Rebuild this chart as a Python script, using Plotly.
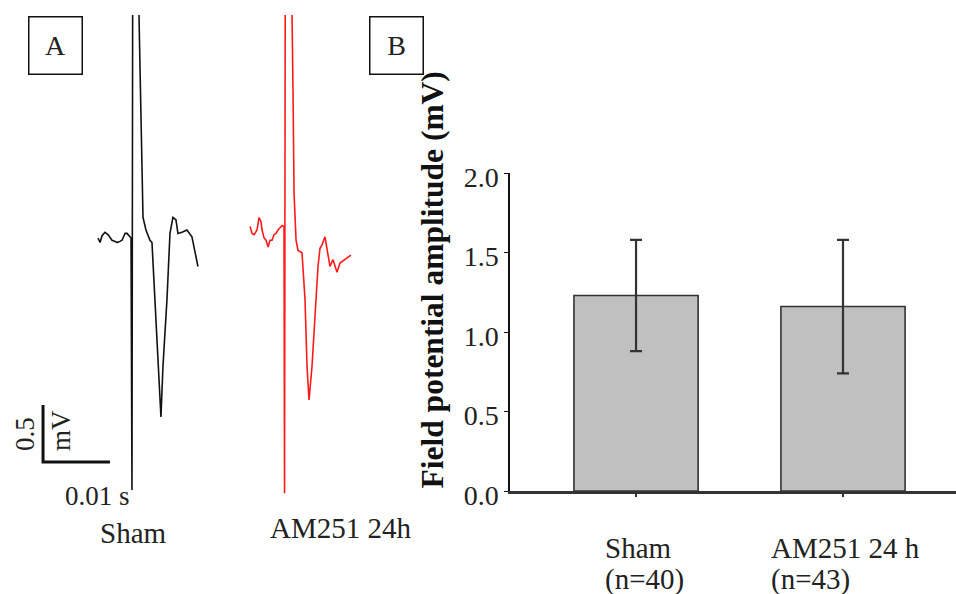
import plotly.graph_objects as go

# ---- Panel A: example field potential traces (time in ms, amplitude in mV) ----
sham_t = [0, 0.30, 0.60, 1.04, 1.49, 1.79, 2.09, 2.54, 2.84, 3.28, 3.58, 3.88, 4.03,
          4.33, 4.48, 4.78, 4.93, 5.07, 5.22, 6.04, 6.12, 6.27, 6.57, 6.72, 7.16,
          7.76, 8.06, 8.51, 8.96, 9.40, 9.70, 10.30, 10.75, 11.19, 11.64, 11.94,
          12.54, 13.28, 14.03, 14.48, 14.93]
sham_mv = [0, -0.04, 0.02, 0.05, 0.03, 0.00, -0.02, -0.03, -0.04, -0.03, -0.02, 0.02,
           0.04, 0.04, 0.03, 0.01, 0.00, -2.21, 4.0, 4.0, 1.96, 1.50, 0.62, 0.18, 0.07,
           -0.02, -0.04, -0.54, -1.13, -1.57, -1.13, -0.54, 0.04, 0.18, 0.16, 0.04,
           0.05, 0.07, 0.01, -0.13, -0.25]

am251_t = [0, 0.30, 0.60, 1.04, 1.34, 1.64, 1.79, 2.09, 2.39, 2.69, 2.99, 3.28, 3.58,
           3.88, 4.18, 4.48, 4.78, 5.07, 5.15, 5.30, 6.19, 6.27, 6.42, 6.57, 6.87,
           7.16, 7.76, 8.21, 8.51, 8.81, 9.25, 9.70, 10.15, 10.45, 10.75, 11.19,
           11.64, 11.94, 12.39, 12.99, 13.43, 14.18, 15.07]
am251_mv = [0.03, -0.03, -0.04, 0.00, 0.11, 0.07, 0.00, -0.07, -0.09, -0.15, -0.09,
            -0.09, -0.04, -0.03, 0.00, 0.02, 0.04, 0.03, -2.31, 4.0, 4.0, 1.89, 1.20,
            0.32, -0.09, -0.18, -0.20, -0.61, -1.20, -1.49, -1.20, -0.76, -0.32, -0.16,
            -0.13, -0.06, -0.20, -0.32, -0.26, -0.37, -0.29, -0.26, -0.22]

trace_names = ["Sham", "AM251 24h"]
scale_ms = 10      # horizontal scale bar: 0.01 s
scale_mv = 0.5     # vertical scale bar: 0.5 mV

# ---- Panel B: mean field potential amplitude ----
groups = ["Sham", "AM251 24 h"]
group_n = ["(n=40)", "(n=43)"]
amplitude = [1.23, 1.16]
amplitude_err = [0.35, 0.42]
y_ticks = [0.0, 0.5, 1.0, 1.5, 2.0]

# layout constants for panel A
sham_offset_ms = 14.65
am251_offset_ms = 37.37
am251_offset_mv = 0.07
scalebar_x0 = 6.43
scalebar_y0 = -1.965

SERIF = "Liberation Serif, Times New Roman, serif"
W, H = 956, 594

fig = go.Figure()

fig.add_trace(go.Scatter(
    x=[t + sham_offset_ms for t in sham_t], y=sham_mv,
    mode="lines", line=dict(color="#111111", width=1.6),
    xaxis="x", yaxis="y", showlegend=False, hoverinfo="skip"))
fig.add_trace(go.Scatter(
    x=[t + am251_offset_ms for t in am251_t],
    y=[v + am251_offset_mv for v in am251_mv],
    mode="lines", line=dict(color="#ff1a1a", width=1.6),
    xaxis="x", yaxis="y", showlegend=False, hoverinfo="skip"))

# scale bar
fig.add_trace(go.Scatter(
    x=[scalebar_x0, scalebar_x0, scalebar_x0 + scale_ms],
    y=[scalebar_y0 + scale_mv, scalebar_y0, scalebar_y0],
    mode="lines", line=dict(color="#111111", width=3),
    xaxis="x", yaxis="y", showlegend=False, hoverinfo="skip"))

# bars with error bars
fig.add_trace(go.Bar(
    x=[0, 1], y=amplitude, width=0.6,
    marker=dict(color="#c0c0c0", line=dict(color="#333333", width=1.6)),
    error_y=dict(type="data", array=amplitude_err, visible=True,
                 color="#333333", thickness=2.2, width=6),
    xaxis="x2", yaxis="y2", showlegend=False, hoverinfo="skip"))

a_top = 1 - 15 / H
fig.update_layout(
    width=W, height=H,
    margin=dict(l=0, r=0, t=0, b=0, autoexpand=False),
    paper_bgcolor="white", plot_bgcolor="white",
    xaxis=dict(domain=[0, 0.42], range=[0, 60], visible=False),
    yaxis=dict(domain=[0, a_top], range=[-3.123, 1.956], visible=False),
    xaxis2=dict(domain=[510 / W, 1.0], range=[-0.609, 1.546], anchor="y2",
                showline=True, linecolor="#333333", linewidth=2.5,
                tickvals=[0, 1], ticktext=["", ""], ticks="outside", ticklen=3,
                tickwidth=2, tickcolor="#333333", showgrid=False, zeroline=False),
    yaxis2=dict(domain=[(H - 491) / H, (H - 173) / H], range=[0, 2], anchor="x2",
                showline=True, linecolor="#111111", linewidth=1.5,
                tickvals=y_ticks, tickformat=".1f", ticks="outside", ticklen=4,
                tickwidth=1.2, tickcolor="#111111", showgrid=False, zeroline=False,
                ticklabelshift=4,
                tickfont=dict(family=SERIF, size=28, color="#222222")),
)


def label(x, y, text, size=29, angle=0, **kw):
    d = dict(x=x / W, y=1 - y / H, xref="paper", yref="paper", text=text,
             showarrow=False, textangle=angle, xanchor="center", yanchor="middle",
             font=dict(family=SERIF, size=size, color="#222222"))
    d.update(kw)
    return d


ann = []
# panel A labels
ann.append(label(133, 533, trace_names[0]))
ann.append(label(340, 528, trace_names[1]))
ann.append(label(97, 496, "0.01 s", size=27))
ann.append(label(25, 434, "0.5", size=27, angle=-90))
ann.append(label(61, 431, "mV", size=27, angle=-90))

# panel B category labels (left-aligned two-line blocks)
for i, (g, n, shift) in enumerate(zip(groups, group_n, [-33, -74])):
    for text, ypx in [(g, 548), (n, 579)]:
        ann.append(dict(x=i, y=1 - ypx / H, xref="x2", yref="paper", text=text,
                        xanchor="left", yanchor="middle", xshift=shift,
                        showarrow=False,
                        font=dict(family=SERIF, size=29, color="#222222")))

# y-axis title
ann.append(dict(x=432 / W, y=1 - 491 / H, xref="paper", yref="paper",
                text="<b>Field potential amplitude (mV)</b>", textangle=-90,
                xanchor="center", yanchor="bottom", showarrow=False,
                font=dict(family=SERIF, size=31.5, color="#111111")))

# panel letters in boxes
for letter, cx, cy in [("A", 55.5, 45.5), ("B", 396.5, 45.0)]:
    ann.append(label(cx, cy, letter, size=28, width=50, height=54,
                     bgcolor="white", bordercolor="#111111", borderwidth=1.5,
                     borderpad=1))

fig.update_layout(annotations=ann)
fig.write_html("out.html")
